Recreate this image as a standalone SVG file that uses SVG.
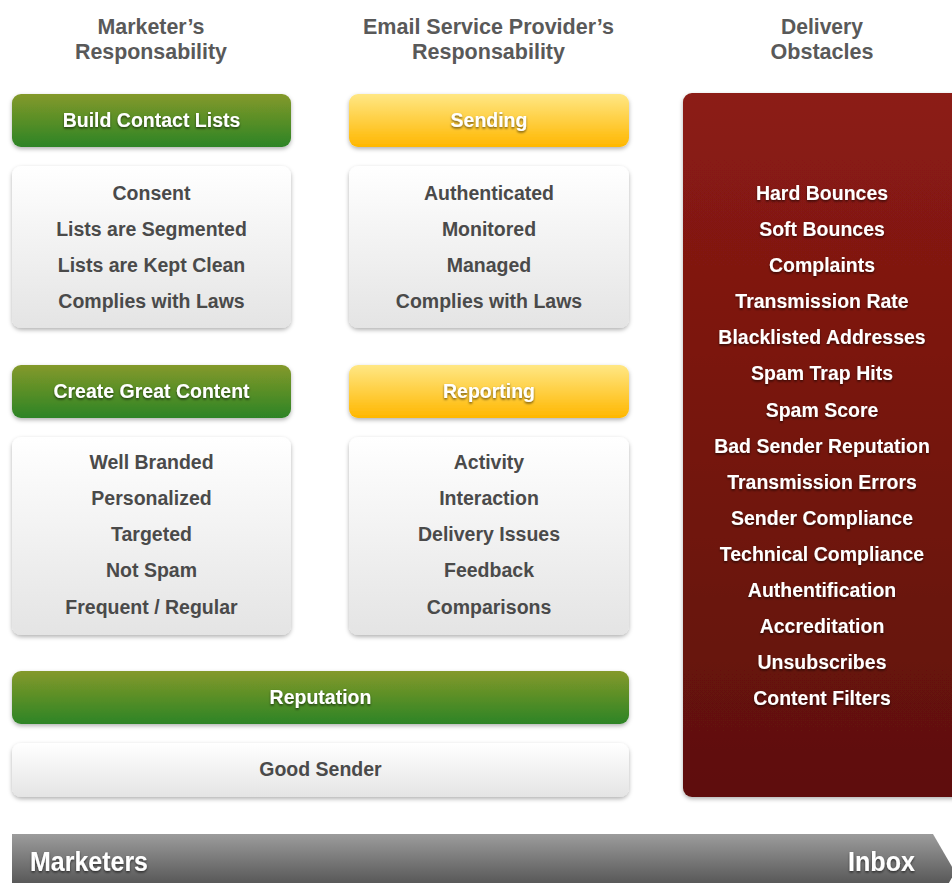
<svg xmlns="http://www.w3.org/2000/svg" width="952" height="883" viewBox="0 0 952 883">
  <defs>
    <linearGradient id="gGreen" x1="0" y1="0" x2="0" y2="1">
      <stop offset="0" stop-color="#84992a"/>
      <stop offset="1" stop-color="#2d8425"/>
    </linearGradient>
    <linearGradient id="gYellow" x1="0" y1="0" x2="0" y2="1">
      <stop offset="0" stop-color="#ffe784"/>
      <stop offset="1" stop-color="#ffb700"/>
    </linearGradient>
    <linearGradient id="gWhite" x1="0" y1="0" x2="0" y2="1">
      <stop offset="0" stop-color="#ffffff"/>
      <stop offset="1" stop-color="#e4e4e4"/>
    </linearGradient>
    <linearGradient id="gRed" x1="0" y1="0" x2="0" y2="1">
      <stop offset="0" stop-color="#8c1b13"/>
      <stop offset="1" stop-color="#5e100b"/>
    </linearGradient>
    <linearGradient id="gGray" x1="0" y1="0" x2="0" y2="1">
      <stop offset="0" stop-color="#9c9c9c"/>
      <stop offset="1" stop-color="#4f4f4f"/>
    </linearGradient>
    <filter id="shadow" x="-10%" y="-20%" width="120%" height="150%">
      <feDropShadow dx="0" dy="2" stdDeviation="2" flood-color="#000" flood-opacity="0.3"/>
    </filter>
    <filter id="txtShadow" x="-10%" y="-30%" width="120%" height="170%">
      <feDropShadow dx="0" dy="1.5" stdDeviation="0.8" flood-color="#000" flood-opacity="0.6"/>
    </filter>
  </defs>
  <style>
    .head { font-family: "Liberation Sans", Arial, sans-serif; font-size: 22px; font-weight: bold; fill: #595959; text-anchor: middle; }
    .lbl { font-family: "Liberation Sans", Arial, sans-serif; font-size: 19.5px; font-weight: bold; fill: #ffffff; text-anchor: middle; filter: url(#txtShadow); }
    .item { font-family: "Liberation Sans", Arial, sans-serif; font-size: 19.5px; font-weight: bold; fill: #4a4a4a; text-anchor: middle; }
    .obst { font-family: "Liberation Sans", Arial, sans-serif; font-size: 19.5px; font-weight: bold; fill: #ffffff; text-anchor: middle; filter: url(#txtShadow); }
    .big { font-family: "Liberation Sans", Arial, sans-serif; font-size: 27px; font-weight: bold; fill: #ffffff; filter: url(#txtShadow); }
  </style>

  <rect width="952" height="883" fill="#ffffff"/>

  <!-- column headings -->
  <g id="headings">
    <text class="head" x="151" y="34" textLength="107" lengthAdjust="spacingAndGlyphs">Marketer’s</text>
    <text class="head" x="151" y="59" textLength="152" lengthAdjust="spacingAndGlyphs">Responsability</text>
    <text class="head" x="488.5" y="34" textLength="251" lengthAdjust="spacingAndGlyphs">Email Service Provider’s</text>
    <text class="head" x="488.5" y="59" textLength="153" lengthAdjust="spacingAndGlyphs">Responsability</text>
    <text class="head" x="822" y="34" textLength="82" lengthAdjust="spacingAndGlyphs">Delivery</text>
    <text class="head" x="822" y="59" textLength="103" lengthAdjust="spacingAndGlyphs">Obstacles</text>
  </g>

  <!-- marketer column -->
  <g id="build-contact-lists">
    <rect x="12" y="94" width="279" height="53" rx="9" fill="url(#gGreen)" filter="url(#shadow)"/>
    <text class="lbl" x="151.5" y="127">Build Contact Lists</text>
  </g>
  <g id="contact-list-items">
    <rect x="12" y="166" width="279" height="162" rx="9" fill="url(#gWhite)" filter="url(#shadow)"/>
    <text class="item" x="151.5" y="200">Consent</text>
    <text class="item" x="151.5" y="236">Lists are Segmented</text>
    <text class="item" x="151.5" y="272">Lists are Kept Clean</text>
    <text class="item" x="151.5" y="308">Complies with Laws</text>
  </g>
  <g id="create-great-content">
    <rect x="12" y="365" width="279" height="53" rx="9" fill="url(#gGreen)" filter="url(#shadow)"/>
    <text class="lbl" x="151.5" y="398">Create Great Content</text>
  </g>
  <g id="content-items">
    <rect x="12" y="437" width="279" height="198" rx="9" fill="url(#gWhite)" filter="url(#shadow)"/>
    <text class="item" x="151.5" y="469">Well Branded</text>
    <text class="item" x="151.5" y="505">Personalized</text>
    <text class="item" x="151.5" y="541">Targeted</text>
    <text class="item" x="151.5" y="577">Not Spam</text>
    <text class="item" x="151.5" y="614">Frequent / Regular</text>
  </g>

  <!-- provider column -->
  <g id="sending">
    <rect x="349" y="94" width="280" height="53" rx="9" fill="url(#gYellow)" filter="url(#shadow)"/>
    <text class="lbl" x="489" y="127">Sending</text>
  </g>
  <g id="sending-items">
    <rect x="349" y="166" width="280" height="162" rx="9" fill="url(#gWhite)" filter="url(#shadow)"/>
    <text class="item" x="489" y="200">Authenticated</text>
    <text class="item" x="489" y="236">Monitored</text>
    <text class="item" x="489" y="272">Managed</text>
    <text class="item" x="489" y="308">Complies with Laws</text>
  </g>
  <g id="reporting">
    <rect x="349" y="365" width="280" height="53" rx="9" fill="url(#gYellow)" filter="url(#shadow)"/>
    <text class="lbl" x="489" y="398">Reporting</text>
  </g>
  <g id="reporting-items">
    <rect x="349" y="437" width="280" height="198" rx="9" fill="url(#gWhite)" filter="url(#shadow)"/>
    <text class="item" x="489" y="469">Activity</text>
    <text class="item" x="489" y="505">Interaction</text>
    <text class="item" x="489" y="541">Delivery Issues</text>
    <text class="item" x="489" y="577">Feedback</text>
    <text class="item" x="489" y="614">Comparisons</text>
  </g>

  <!-- shared reputation band -->
  <g id="reputation">
    <rect x="12" y="671" width="617" height="53" rx="9" fill="url(#gGreen)" filter="url(#shadow)"/>
    <text class="lbl" x="320.5" y="704">Reputation</text>
  </g>
  <g id="good-sender">
    <rect x="12" y="743" width="617" height="54" rx="9" fill="url(#gWhite)" filter="url(#shadow)"/>
    <text class="item" x="320.5" y="776">Good Sender</text>
  </g>

  <!-- delivery obstacles -->
  <g id="obstacles">
    <rect x="683" y="93" width="290" height="704" rx="9" fill="url(#gRed)" filter="url(#shadow)"/>
    <text class="obst" x="822" y="200">Hard Bounces</text>
    <text class="obst" x="822" y="236">Soft Bounces</text>
    <text class="obst" x="822" y="272">Complaints</text>
    <text class="obst" x="822" y="308">Transmission Rate</text>
    <text class="obst" x="822" y="344">Blacklisted Addresses</text>
    <text class="obst" x="822" y="380">Spam Trap Hits</text>
    <text class="obst" x="822" y="417">Spam Score</text>
    <text class="obst" x="822" y="453">Bad Sender Reputation</text>
    <text class="obst" x="822" y="489">Transmission Errors</text>
    <text class="obst" x="822" y="525">Sender Compliance</text>
    <text class="obst" x="822" y="561">Technical Compliance</text>
    <text class="obst" x="822" y="597">Authentification</text>
    <text class="obst" x="822" y="633">Accreditation</text>
    <text class="obst" x="822" y="669">Unsubscribes</text>
    <text class="obst" x="822" y="705">Content Filters</text>
  </g>

  <!-- flow arrow along the bottom -->
  <g id="flow-arrow">
    <path d="M12 834 H933 L955 872 L945 890 H12 Z" fill="url(#gGray)"/>
    <text class="big" x="30" y="871" textLength="118" lengthAdjust="spacingAndGlyphs">Marketers</text>
    <text class="big" x="848" y="871" textLength="67" lengthAdjust="spacingAndGlyphs">Inbox</text>
  </g>
</svg>
